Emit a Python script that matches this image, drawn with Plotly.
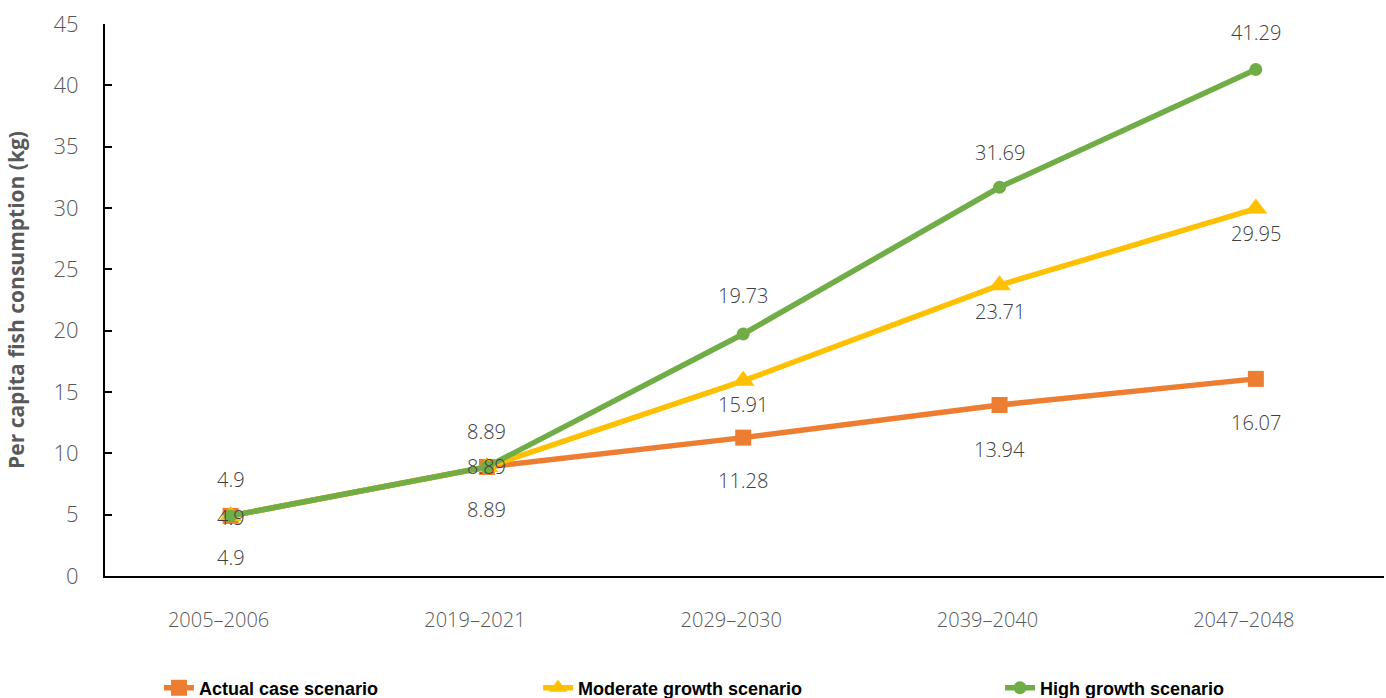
import plotly.graph_objects as go

periods = ["2005–2006", "2019–2021", "2029–2030", "2039–2040", "2047–2048"]
actual = [4.9, 8.89, 11.28, 13.94, 16.07]
moderate = [4.9, 8.89, 15.91, 23.71, 29.95]
high = [4.9, 8.89, 19.73, 31.69, 41.29]

series = [
    ("Actual case scenario", actual, "#ED7D31", "square", 16, "legend"),
    ("Moderate growth scenario", moderate, "#FFC000", "triangle-up", 20, "legend2"),
    ("High growth scenario", high, "#70AD47", "circle", 13, "legend3"),
]

# vertical offsets (px) of the value labels for each series, per point
label_shift = {
    "Actual case scenario": [-42, -43, -43, -44, -44],
    "Moderate growth scenario": [-2, 0, -24, -26, -25],
    "High growth scenario": [36, 35, 38, 35, 37],
}

fig = go.Figure()
for name, vals, color, symbol, msize, leg in series:
    fig.add_trace(go.Scatter(
        x=periods, y=vals, name=name, mode="lines+markers",
        line=dict(color=color, width=5.5),
        marker=dict(symbol=symbol, size=msize, color=color),
        legend=leg, showlegend=True,
    ))

annotations = []
for name, vals, color, symbol, msize, leg in series:
    for p, v, dy in zip(periods, vals, label_shift[name]):
        annotations.append(dict(
            x=p, y=v, xref="x", yref="y", text=f"{v:g}", showarrow=False,
            yshift=dy, font=dict(family="Open Sans", size=20, color="#404040", weight=300),
        ))

leg_common = dict(orientation="h", yanchor="middle", y=-0.203, xanchor="left",
                  font=dict(family="Liberation Sans", size=18, color="#000000", weight="bold"),
                  bgcolor="rgba(0,0,0,0)")

fig.update_layout(
    width=1386, height=698,
    margin=dict(l=105, r=2, t=24, b=122, autoexpand=False),
    paper_bgcolor="white", plot_bgcolor="white",
    showlegend=True,
    annotations=annotations,
    legend=dict(leg_common, x=0.0422),
    legend2=dict(leg_common, x=0.3386),
    legend3=dict(leg_common, x=0.6998),
    xaxis=dict(
        type="category", range=[-0.49, 4.5], automargin=False,
        showline=True, linecolor="#000000", linewidth=2,
        showgrid=False, ticks="", zeroline=False,
        tickfont=dict(family="Open Sans", size=20, color="#595959", weight=300),
        ticklabelstandoff=25, ticklabelshift=-12,
    ),
    yaxis=dict(
        range=[0, 45], dtick=5, tick0=0, automargin=False,
        showline=True, linecolor="#000000", linewidth=2,
        ticks="inside", ticklen=7, tickwidth=2, tickcolor="#000000",
        showgrid=False, zeroline=False,
        tickfont=dict(family="Open Sans", size=22, color="#595959", weight=300),
        ticklabelstandoff=20,
        title=dict(text="Per capita fish consumption (kg)", standoff=23,
                   font=dict(family="Open Sans", size=21, color="#595959", weight="bold")),
    ),
)

fig.write_html("out.html")
